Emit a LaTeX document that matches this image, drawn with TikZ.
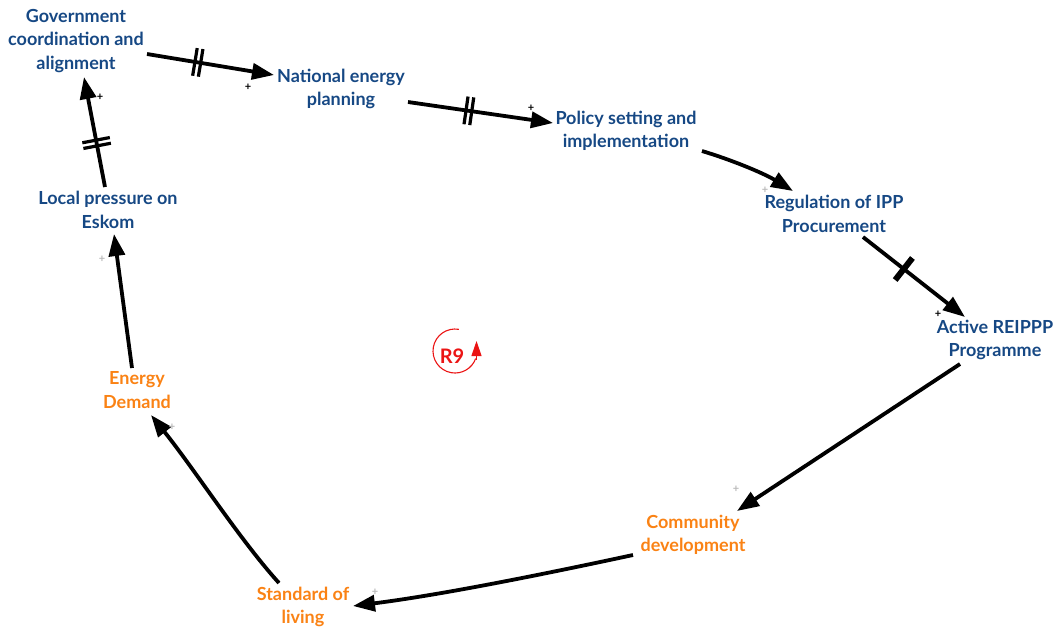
\documentclass[tikz,border=0pt]{standalone}
\usepackage{fontspec}
\setmainfont{Lato}
\usetikzlibrary{arrows.meta,decorations.markings}
\definecolor{varblue}{RGB}{22,72,132}
\definecolor{varorange}{RGB}{250,130,20}
\definecolor{loopred}{RGB}{235,20,20}
\definecolor{signgray}{RGB}{185,185,185}
\begin{document}
\begin{tikzpicture}[x=1pt,y=-1pt,
  var/.style={font=\fontsize{18}{23.5}\selectfont\bfseries, align=center, inner sep=0pt},
  bluevar/.style={var, text=varblue},
  orangevar/.style={var, text=varorange},
  link/.style={line width=3.8pt, -{Triangle[length=22pt,width=16pt]}},
  sgn/.style={font=\fontsize{11}{11}\selectfont\bfseries, inner sep=0pt},
  delay/.style={postaction={decorate, decoration={markings,
      mark=at position #1 with {\draw[line width=3.2pt,-] (-2.9,-14) -- (-2.9,14) (2.9,-14) -- (2.9,14);}}}},
  sdelay/.style={postaction={decorate, decoration={markings,
      mark=at position #1 with {\draw[line width=6pt,-] (0,-14) -- (0,14);}}}}
]
\useasboundingbox (0,0) rectangle (1055,630);

% variables
\node[bluevar] (gov) at (76,41) {Government\\coordination and\\alignment};
\node[bluevar] (nep) at (341,89) {National energy\\planning};
\node[bluevar] (pol) at (626,131) {Policy setting and\\implementation};
\node[bluevar] (reg) at (834,214) {Regulation of IPP\\Procurement};
\node[bluevar] (rei) at (995,340) {Active REIPPP\\Programme};
\node[orangevar] (com) at (693,535) {Community\\development};
\node[orangevar] (sol) at (303,607) {Standard of\\living};
\node[orangevar] (ed) at (137,390) {Energy\\Demand};
\node[bluevar] (lpe) at (108,210) {Local pressure on\\Eskom};

% connector end points
\coordinate (a1) at (147,54);  \coordinate (b1) at (274,75);
\coordinate (a2) at (408,102); \coordinate (b2) at (553,123);
\coordinate (a3) at (702,151); \coordinate (b3) at (793,191);
\coordinate (a4) at (863,237); \coordinate (b4) at (965,317);
\coordinate (a5) at (960,364); \coordinate (b5) at (737,511);
\coordinate (a6) at (633,555); \coordinate (b6) at (353,606);
\coordinate (a7) at (279,583); \coordinate (b7) at (151,415);
\coordinate (a8) at (132,368); \coordinate (b8) at (114,234);
\coordinate (a9) at (105,187); \coordinate (b9) at (84,77);

% causal links
\draw[link, delay=0.4] (a1) -- (b1);
\draw[link, delay=0.42] (a2) -- (b2);
\draw[link] (a3) .. controls (735,161) and (765,174) .. (b3);
\draw[link, sdelay=0.4] (a4) -- (b4);
\draw[link] (a5) -- (b5);
\draw[link] (a6) .. controls (540,575) and (440,595) .. (b6);
\draw[link] (a7) .. controls (240,540) and (195,470) .. (b7);
\draw[link] (a8) -- (b8);
\draw[link, delay=0.4] (a9) -- (b9);

% polarity signs
\node[sgn] (s1) at (248,87) {+};
\node[sgn] (s2) at (531,108) {+};
\node[sgn, text=signgray] (s3) at (765,190) {+};
\node[sgn] (s4) at (938,314) {+};
\node[sgn, text=signgray] (s5) at (736,489) {+};
\node[sgn, text=signgray] (s6) at (375,592) {+};
\node[sgn, text=signgray] (s7) at (172,427) {+};
\node[sgn, text=signgray] (s8) at (102,259) {+};
\node[sgn] (s9) at (100,97) {+};

% loop identifier
\node[font=\fontsize{20}{20}\selectfont\bfseries, text=loopred, inner sep=0pt] (r9) at (452,356) {R9};
\draw[loopred, line width=1.1pt]
  (455,351) ++(-80:22) arc[start angle=-80, end angle=-340, radius=22];
\coordinate (r9tail) at (476.5,360);
\coordinate (r9tip) at (476.5,341);
\draw[loopred, line width=1.1pt, -{Triangle[length=15pt,width=10pt]}] (r9tail) -- (r9tip);
\end{tikzpicture}
\end{document}
